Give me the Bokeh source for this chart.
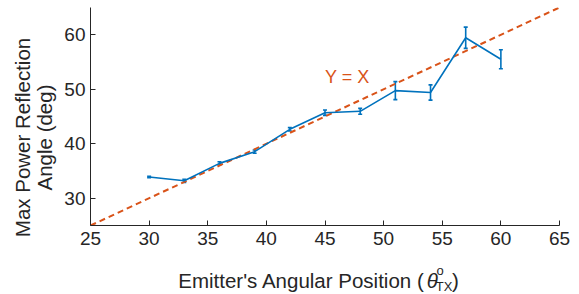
import math
from bokeh.plotting import figure
from bokeh.layouts import row, column
from bokeh.models import ColumnDataSource, Whisker, TeeHead, Label, Range1d, FixedTicker
from bokeh.embed import file_html
from bokeh.resources import INLINE

# ---- data ----
emitter_angle = [30, 33, 36, 39, 42, 45, 48, 51, 54, 57, 60]
max_refl_angle = [33.9, 33.2, 36.4, 38.55, 42.65, 45.7, 45.95, 49.75, 49.4, 59.45, 55.5]
refl_err = [0.15, 0.3, 0.3, 0.3, 0.3, 0.5, 0.55, 1.65, 1.4, 1.95, 1.75]
axis_limits = [25, 65]
x_ticks = [25, 30, 35, 40, 45, 50, 55, 60, 65]
y_ticks = [30, 40, 50, 60]

BLUE = "#0072BD"
ORANGE = "#D95319"
DARK = "#262626"
FONT = "Liberation Sans"

lower = [v - e for v, e in zip(max_refl_angle, refl_err)]
upper = [v + e for v, e in zip(max_refl_angle, refl_err)]
src = ColumnDataSource(dict(x=emitter_angle, y=max_refl_angle, lo=lower, hi=upper))


def bare(fig):
    fig.outline_line_color = None
    fig.xgrid.visible = False
    fig.ygrid.visible = False
    fig.background_fill_color = "white"
    fig.border_fill_color = "white"
    return fig


# ---- main chart ----
p = figure(width=519, height=258, output_backend="svg", toolbar_location=None,
           x_range=Range1d(*axis_limits), y_range=Range1d(*axis_limits),
           min_border_left=30, min_border_right=20, min_border_top=7, min_border_bottom=33)
bare(p)

# y = x reference line
p.line(axis_limits, axis_limits, line_color=ORANGE, line_width=2, line_dash="6 4")

# data line + error bars
p.line("x", "y", source=src, line_color=BLUE, line_width=1.6)
w = Whisker(base="x", lower="lo", upper="hi", source=src,
            line_color=BLUE, line_width=1.6,
            upper_head=TeeHead(size=4, line_color=BLUE, line_width=1.6),
            lower_head=TeeHead(size=4, line_color=BLUE, line_width=1.6))
p.add_layout(w)

for ax in (p.xaxis[0], p.yaxis[0]):
    ax.axis_line_color = DARK
    ax.axis_line_width = 1
    ax.major_tick_line_color = DARK
    ax.major_tick_in = 5
    ax.major_tick_out = 0
    ax.minor_tick_line_color = None
    ax.major_label_text_font = FONT
    ax.major_label_text_font_size = "19px"
    ax.major_label_text_color = DARK
p.xaxis[0].ticker = FixedTicker(ticks=x_ticks)
p.yaxis[0].ticker = FixedTicker(ticks=y_ticks)
p.xaxis[0].major_label_standoff = 6
p.yaxis[0].major_label_standoff = 5

# Y = X annotation
p.add_layout(Label(x=45, y=52.3, text="Y = X", text_color=ORANGE, text_font=FONT,
                   text_font_size="18px", text_align="left", text_baseline="middle"))

# ---- x-axis label strip (page-pixel coordinates) ----
xl = bare(figure(width=519, height=36, output_backend="svg", toolbar_location=None,
                 x_range=Range1d(60, 579), y_range=Range1d(294, 258),
                 x_axis_location=None, y_axis_location=None,
                 min_border_left=0, min_border_right=0, min_border_top=0, min_border_bottom=0))
main_style = dict(text_color=DARK, text_font=FONT, text_baseline="alphabetic")
xl.add_layout(Label(x=430, y=280, text="Emitter's Angular Position (", text_font_size="20.5px",
                    text_align="right", **main_style))
xl.add_layout(Label(x=432, y=280, text="θ", text_font_size="20.5px", text_font_style="italic",
                    text_align="left", **main_style))
xl.add_layout(Label(x=443, y=270, text="o", text_font_size="13px", text_align="left", **main_style))
xl.add_layout(Label(x=442, y=286, text="TX", text_font_size="13px", text_align="left", **main_style))
xl.add_layout(Label(x=460, y=280, text=")", text_font_size="20.5px", text_align="left", **main_style))

# ---- y-axis label strip (page-pixel coordinates) ----
yl = bare(figure(width=60, height=294, output_backend="svg", toolbar_location=None,
                 x_range=Range1d(0, 60), y_range=Range1d(294, 0),
                 x_axis_location=None, y_axis_location=None,
                 min_border_left=0, min_border_right=0, min_border_top=0, min_border_bottom=0))
yl.add_layout(Label(x=22, y=137, text="Max Power Reflection", text_font_size="20.5px",
                    text_align="center", angle=math.pi / 2, **main_style))
yl.add_layout(Label(x=44, y=137, text="Angle (deg)", text_font_size="20.5px",
                    text_align="center", angle=math.pi / 2, **main_style))

layout = row(yl, column(p, xl, spacing=0), spacing=0)

open("out.html", "w").write(file_html(layout, INLINE))
